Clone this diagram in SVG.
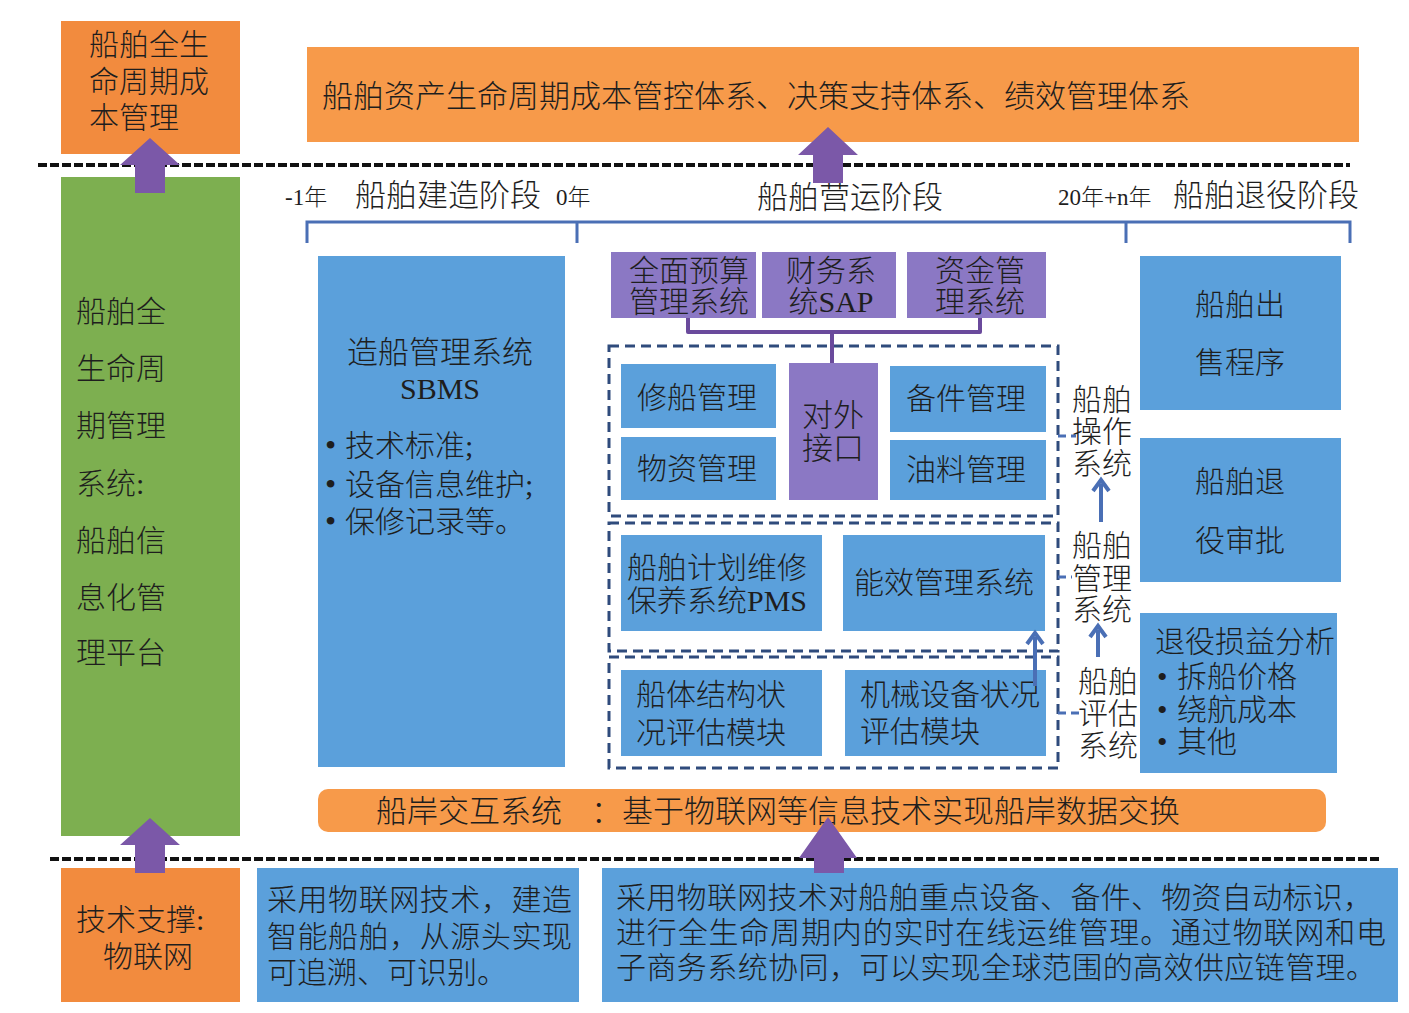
<svg xmlns="http://www.w3.org/2000/svg" width="1409" height="1013" viewBox="0 0 1409 1013">
<style>
text{font-family:"Liberation Serif","Noto Sans CJK SC",serif;fill:#1e1e1e;font-weight:300;}
.l{font-weight:400;}
.f30{font-size:30px;}
.f31{font-size:31px;}
.f24{font-size:23px;}
.c{text-anchor:middle;}
.bul{font-size:32px;font-weight:400;}
.org{fill:#F28B3E;}
.org2{fill:#F79A4A;}
.grn{fill:#7DAF50;}
.blu{fill:#5BA0DB;}
.pur{fill:#8B78C4;}
.parrow{fill:#7B58A8;}
.dash{fill:none;stroke:#2F4B7C;stroke-width:3;stroke-dasharray:10 6;}
.sep{stroke:#111;stroke-width:4;stroke-dasharray:9 3;fill:none;}
.bl{stroke:#4A6FB5;stroke-width:3;fill:none;}
.bld{stroke:#4A6FB5;stroke-width:3;fill:none;stroke-dasharray:8 5;}
.ba{stroke:#4A6FB5;stroke-width:4;fill:none;}
</style>
<rect width="1409" height="1013" fill="#fff"/>

<g id="sep-lines">
<line class="sep" x1="38" y1="165" x2="1350" y2="165"/>
<line class="sep" x1="50" y1="859" x2="1382" y2="859"/>
</g>

<g id="cost-mgmt">
<rect class="org" x="61" y="21" width="179" height="133"/>
<text class="f30" x="89" y="55">船舶全生</text>
<text class="f30" x="89" y="92">命周期成</text>
<text class="f30" x="89" y="128">本管理</text>
</g>

<g id="cost-system">
<rect class="org2" x="307" y="47" width="1052" height="95"/>
<text class="f31" x="322" y="107">船舶资产生命周期成本管控体系、决策支持体系、绩效管理体系</text>
</g>

<g id="platform">
<rect class="grn" x="61" y="177" width="179" height="659"/>
<text class="f30" x="76" y="322">船舶全</text>
<text class="f30" x="76" y="379">生命周</text>
<text class="f30" x="76" y="436">期管理</text>
<text class="f30" x="76" y="494">系统<tspan class="l">:</tspan></text>
<text class="f30" x="76" y="551">船舶信</text>
<text class="f30" x="76" y="608">息化管</text>
<text class="f30" x="76" y="663">理平台</text>
</g>

<g id="timeline">
<text class="f24" x="285" y="205"><tspan class="l">-1</tspan>年</text>
<text class="f31" x="355" y="206">船舶建造阶段</text>
<text class="f24" x="556" y="205"><tspan class="l">0</tspan>年</text>
<text class="f31" x="757" y="208">船舶营运阶段</text>
<text class="f24" x="1058" y="205"><tspan class="l">20</tspan>年<tspan class="l">+n</tspan>年</text>
<text class="f31" x="1173" y="206">船舶退役阶段</text>
<path class="bl" d="M307,243 V222 H1350 V243 M577,222 V243 M1126,222 V243"/>
</g>

<g id="sbms">
<rect class="blu" x="318" y="256" width="247" height="511"/>
<text class="f31 c" x="440" y="363">造船管理系统</text>
<text class="f30 c l" x="440" y="399">SBMS</text>
<text class="f30" x="325" y="456"><tspan class="bul">•</tspan><tspan x="345">技术标准</tspan><tspan class="l">;</tspan></text>
<text class="f30" x="325" y="495"><tspan class="bul">•</tspan><tspan x="345">设备信息维护</tspan><tspan class="l">;</tspan></text>
<text class="f30" x="325" y="532"><tspan class="bul">•</tspan><tspan x="345">保修记录等。</tspan></text>
</g>

<g id="budget">
<rect class="pur" x="611" y="252" width="145" height="66"/>
<text class="f30 c" x="689" y="281">全面预算</text>
<text class="f30 c" x="689" y="312">管理系统</text>
</g>
<g id="finance">
<rect class="pur" x="762" y="252" width="134" height="66"/>
<text class="f30 c" x="831" y="281">财务系</text>
<text class="f30 c" x="831" y="312">统<tspan class="l">SAP</tspan></text>
</g>
<g id="fund">
<rect class="pur" x="907" y="252" width="139" height="66"/>
<text class="f30 c" x="980" y="281">资金管</text>
<text class="f30 c" x="980" y="312">理系统</text>
</g>

<g id="operation-group">
<rect class="dash" x="609" y="346" width="449" height="170"/>
</g>
<g id="repair">
<rect class="blu" x="621" y="364" width="155" height="64"/>
<text class="f30 c" x="697" y="408">修船管理</text>
</g>
<g id="material">
<rect class="blu" x="621" y="437" width="155" height="63"/>
<text class="f30 c" x="697" y="479">物资管理</text>
</g>
<g id="interface">
<rect class="pur" x="789" y="363" width="89" height="137"/>
<text class="f31 c" x="833" y="426">对外</text>
<text class="f31 c" x="833" y="459">接口</text>
</g>
<g id="spares">
<rect class="blu" x="890" y="366" width="156" height="66"/>
<text class="f30 c" x="966" y="409">备件管理</text>
</g>
<g id="fuel">
<rect class="blu" x="890" y="440" width="156" height="60"/>
<text class="f30 c" x="966" y="480">油料管理</text>
</g>

<g id="management-group">
<rect class="dash" x="609" y="523" width="449" height="128"/>
</g>
<g id="pms">
<rect class="blu" x="621" y="535" width="201" height="96"/>
<text class="f30" x="627" y="578">船舶计划维修</text>
<text class="f30" x="627" y="611">保养系统<tspan class="l">PMS</tspan></text>
</g>
<g id="energy">
<rect class="blu" x="843" y="535" width="202" height="96"/>
<text class="f30 c" x="944" y="593">能效管理系统</text>
</g>

<g id="assessment-group">
<rect class="dash" x="609" y="657" width="449" height="111"/>
</g>
<g id="hull">
<rect class="blu" x="621" y="670" width="201" height="86"/>
<text class="f30" x="636" y="705">船体结构状</text>
<text class="f30" x="636" y="743">况评估模块</text>
</g>
<g id="machinery">
<rect class="blu" x="845" y="670" width="201" height="86"/>
<text class="f30" x="860" y="705">机械设备状况</text>
<text class="f30" x="860" y="742">评估模块</text>
</g>

<g id="label-operation">
<text class="f30" x="1072" y="410">船舶</text>
<text class="f30" x="1072" y="442">操作</text>
<text class="f30" x="1072" y="474">系统</text>
</g>
<g id="label-management">
<text class="f30" x="1072" y="556">船舶</text>
<text class="f30" x="1072" y="589">管理</text>
<text class="f30" x="1072" y="620">系统</text>
</g>
<g id="label-assessment">
<text class="f30" x="1078" y="692">船舶</text>
<text class="f30" x="1078" y="724">评估</text>
<text class="f30" x="1078" y="756">系统</text>
</g>

<g id="sale">
<rect class="blu" x="1140" y="256" width="201" height="154"/>
<text class="f30 c" x="1240" y="315">船舶出</text>
<text class="f30 c" x="1240" y="373">售程序</text>
</g>
<g id="retire-approval">
<rect class="blu" x="1140" y="438" width="201" height="144"/>
<text class="f30 c" x="1240" y="492">船舶退</text>
<text class="f30 c" x="1240" y="551">役审批</text>
</g>
<g id="retire-analysis">
<rect class="blu" x="1140" y="613" width="197" height="160"/>
<text class="f30" x="1155" y="652">退役损益分析</text>
<text class="f30" x="1157" y="687"><tspan class="l">•</tspan><tspan x="1177">拆船价格</tspan></text>
<text class="f30" x="1157" y="720"><tspan class="l">•</tspan><tspan x="1177">绕航成本</tspan></text>
<text class="f30" x="1157" y="752"><tspan class="l">•</tspan><tspan x="1177">其他</tspan></text>
</g>

<g id="ship-shore">
<rect class="org2" x="318" y="789" width="1008" height="43" rx="10"/>
<text class="f31" x="376" y="822">船岸交互系统<tspan x="591">：基于物联网等信息技术实现船岸数据交换</tspan></text>
</g>

<g id="tech-support">
<rect class="org" x="61" y="868" width="179" height="134"/>
<text class="f30" x="76" y="930">技术支撑<tspan class="l">:</tspan></text>
<text class="f30 c" x="148" y="967">物联网</text>
</g>
<g id="iot-build">
<rect class="blu" x="257" y="868" width="322" height="134"/>
<text class="f30" x="267" y="910" textLength="305">采用物联网技术，建造</text>
<text class="f30" x="267" y="947" textLength="305">智能船舶，从源头实现</text>
<text class="f30" x="267" y="983">可追溯、可识别。</text>
</g>
<g id="iot-ops">
<rect class="blu" x="602" y="868" width="796" height="134"/>
<text class="f30" x="616" y="908" textLength="757">采用物联网技术对船舶重点设备、备件、物资自动标识，</text>
<text class="f30" x="616" y="943" textLength="770">进行全生命周期内的实时在线运维管理。通过物联网和电</text>
<text class="f30" x="616" y="978" textLength="760">子商务系统协同，可以实现全球范围的高效供应链管理。</text>
</g>

<g id="connectors">
<path d="M688,318 V332 H980 V318 M832,332 V363" fill="none" stroke="#6A4A9C" stroke-width="4" stroke-linejoin="round"/>
<line class="bld" x1="1058" y1="436" x2="1076" y2="436"/>
<line class="bld" x1="1058" y1="577" x2="1072" y2="577"/>
<line class="bld" x1="1058" y1="713" x2="1080" y2="713"/>
<line class="ba" x1="1101" y1="522" x2="1101" y2="484"/>
<path class="ba" d="M1093,491 L1101,480 L1109,491"/>
<line class="ba" x1="1098" y1="657" x2="1098" y2="630"/>
<path class="ba" d="M1090,637 L1098,626 L1106,637"/>
<line class="ba" x1="1035" y1="686" x2="1035" y2="637"/>
<path class="ba" d="M1027,644 L1035,633 L1043,644"/>
<polygon class="parrow" points="135,193 135,165 120,165 150,138 180,165 165,165 165,193"/>
<polygon class="parrow" points="813,183 813,155 798,155 828,127 858,155 843,155 843,183"/>
<polygon class="parrow" points="135,873 135,845 120,845 150,818 180,845 165,845 165,873"/>
<polygon class="parrow" points="814,873 814,858 799,858 828,817 857,858 844,858 844,873"/>
</g>
</svg>
